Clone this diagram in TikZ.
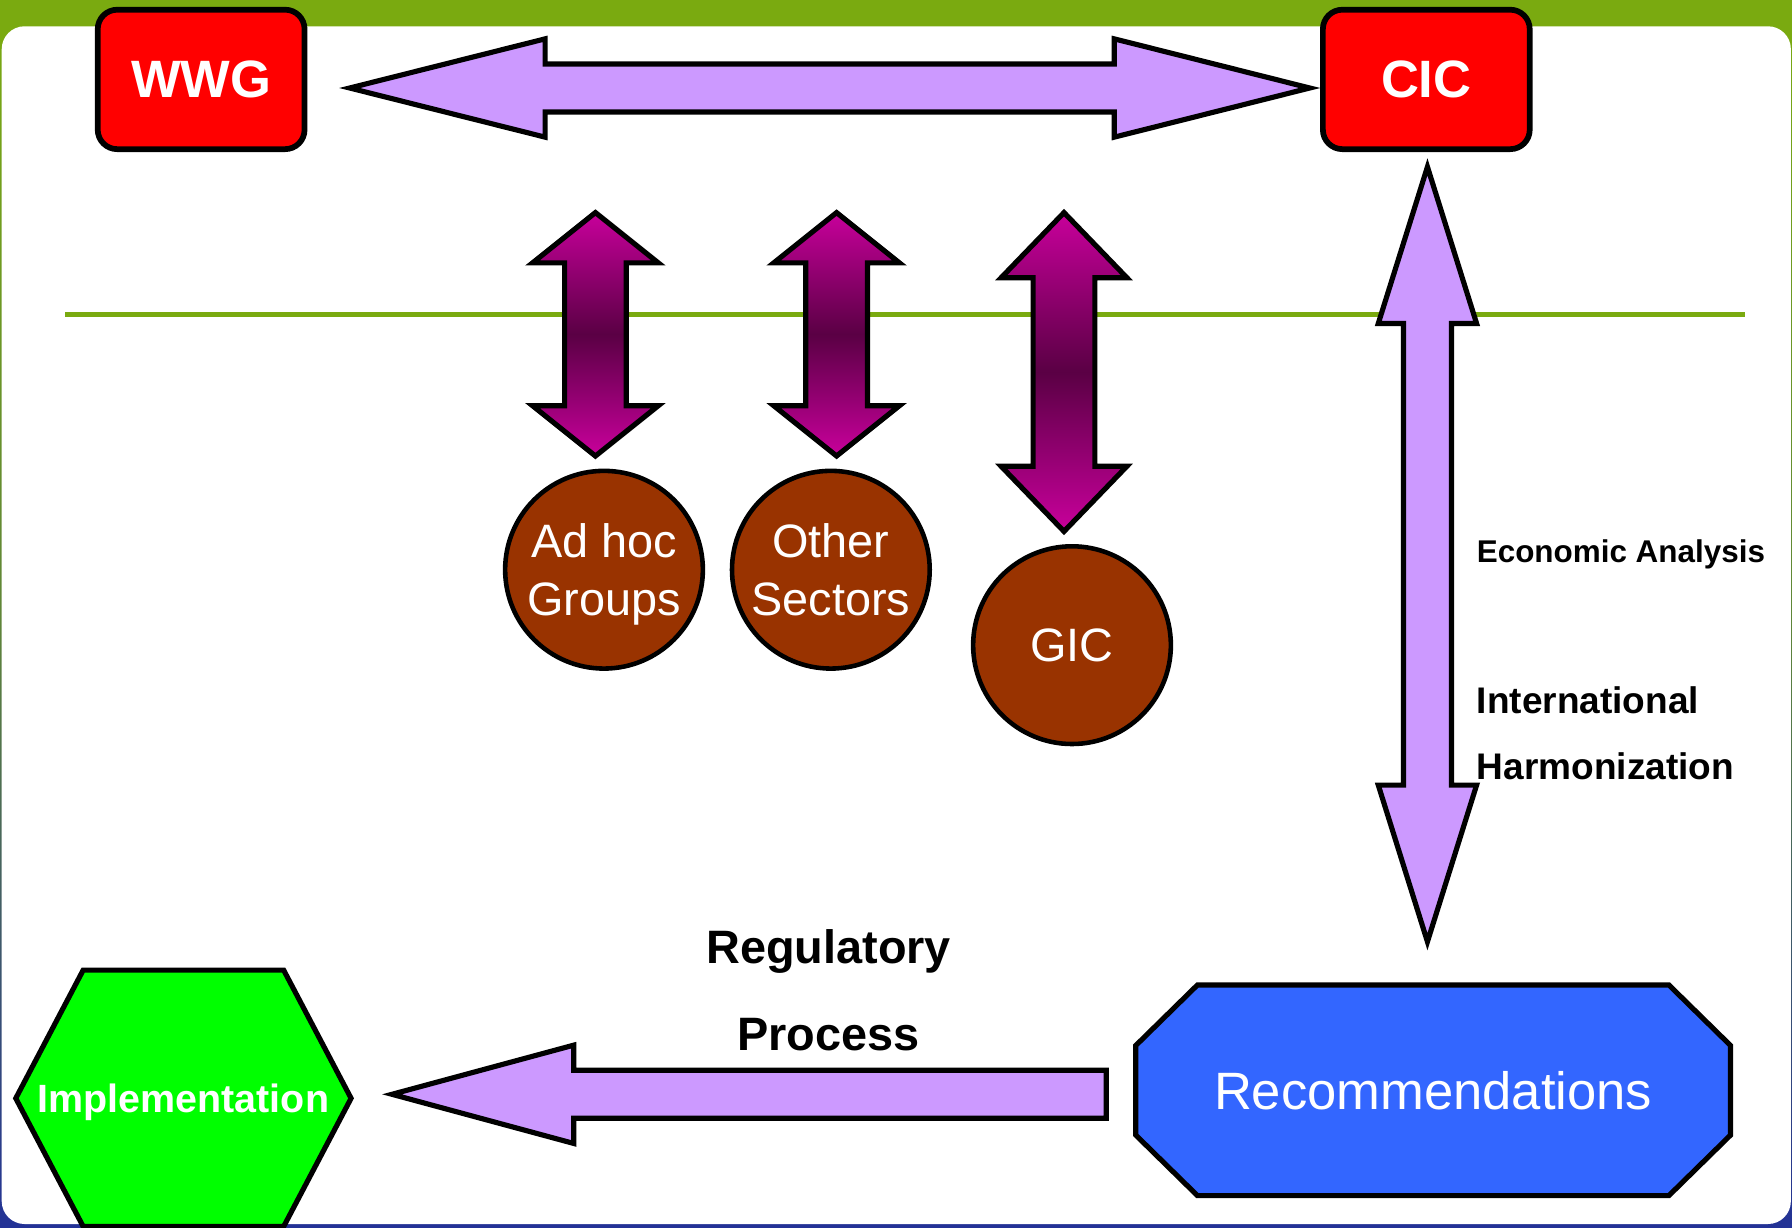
\documentclass[tikz,border=0pt]{standalone}
\usepackage{fontspec}
\setmainfont{Liberation Sans}
\usetikzlibrary{calc}
\pgfdeclarelayer{bg}
\pgfdeclarelayer{back}
\pgfsetlayers{bg,back,main}

\definecolor{slidegreen}{RGB}{122,170,16}
\definecolor{slideblue}{RGB}{35,50,150}
\definecolor{boxred}{RGB}{255,0,0}
\definecolor{lav}{RGB}{204,153,255}
\definecolor{magbright}{RGB}{200,0,155}
\definecolor{magdark}{RGB}{90,0,68}
\definecolor{discbrown}{RGB}{153,51,0}
\definecolor{recblue}{RGB}{51,102,255}
\definecolor{implgreen}{RGB}{0,255,0}

% horizontal double block arrow: style, left tip, right tip, head length, head half width, shaft half width
\newcommand\hdarrow[6]{\path[#1] let \p1=(#2), \p2=(#3) in
  (\p1) -- (\x1+#4,\y1+#5) -- (\x1+#4,\y1+#6) -- (\x2-#4,\y1+#6) -- (\x2-#4,\y1+#5) -- (\p2)
  -- (\x2-#4,\y1-#5) -- (\x2-#4,\y1-#6) -- (\x1+#4,\y1-#6) -- (\x1+#4,\y1-#5) -- cycle;}
% vertical double block arrow: style, top tip, bottom tip, head length, head half width, shaft half width
\newcommand\vdarrow[6]{\path[#1] let \p1=(#2), \p2=(#3) in
  (\p1) -- (\x1+#5,\y1-#4) -- (\x1+#6,\y1-#4) -- (\x1+#6,\y2+#4) -- (\x1+#5,\y2+#4) -- (\p2)
  -- (\x1-#5,\y2+#4) -- (\x1-#6,\y2+#4) -- (\x1-#6,\y1-#4) -- (\x1-#5,\y1-#4) -- cycle;}
% single block arrow pointing left: style, tip, tail centre, head length, head half width, shaft half width
\newcommand\lsarrow[6]{\path[#1] let \p1=(#2), \p2=(#3) in
  (\p1) -- (\x1+#4,\y1+#5) -- (\x1+#4,\y1+#6) -- (\x2,\y1+#6) -- (\x2,\y1-#6)
  -- (\x1+#4,\y1-#6) -- (\x1+#4,\y1-#5) -- cycle;}

\begin{document}
\begin{tikzpicture}[x=1pt,y=-1pt,
  redbox/.style={draw, line width=5pt, fill=boxred, rounded corners=17pt,
    minimum width=181pt, minimum height=122pt, inner sep=0pt, text=white,
    font=\bfseries\fontsize{46}{50}\selectfont},
  disc/.style={circle, draw, line width=4pt, fill=discbrown, minimum size=173pt,
    inner sep=0pt, text=white, align=center, text depth=0pt,
    font=\fontsize{41}{50.5}\selectfont},
  blockarrow/.style={draw, line width=4.5pt, fill=lav, line join=miter},
  gradarrow/.style={draw, line width=4.5pt, line join=miter, top color=magbright,
    bottom color=magbright, middle color=magdark},
  sidelabel/.style={anchor=base west, inner sep=0pt},
  reglabel/.style={anchor=base, inner sep=0pt, font=\bfseries\fontsize{41}{48}\selectfont},
  polyline/.style={draw, line width=4.5pt, line join=miter}
]
\useasboundingbox (0,0) rectangle (1568,1074);

% slide background and panel
\begin{pgfonlayer}{bg}
  \shade[top color=slidegreen, bottom color=slideblue, middle color=slidegreen!70!slideblue]
    (0,0) rectangle (1568,1074);
  \fill[slidegreen] (0,0) rectangle (1568,40);
  \fill[white, rounded corners=20pt] (1.5,23) rectangle (1567,1071);
  \draw[slidegreen, line width=4.5pt] (57,275) -- (1527,275);
\end{pgfonlayer}

% top boxes
\node[redbox] (wwg) at (176,69.5) {WWG};
\node[redbox] (cic) at (1248,69.5) {CIC};

% circles
\node[disc] (adhoc) at (528.5,498.5) {Ad hoc\\Groups};
\node[disc] (other) at (727,498.5) {Other\\Sectors};
\node[disc] (gic) at (938,564.5) {GIC};

% recommendations (octagon)
\node[minimum width=520pt, minimum height=184pt, inner sep=0pt, text=white,
  font=\fontsize{46}{50}\selectfont] (rec) at (1254,954) {Recommendations};
\begin{pgfonlayer}{back}
  \path[polyline, fill=recblue]
    ($(rec.north west)+(54,0)$) -- ($(rec.north east)+(-54,0)$) -- ($(rec.north east)+(0,53)$)
    -- ($(rec.south east)+(0,-53)$) -- ($(rec.south east)+(-54,0)$) -- ($(rec.south west)+(54,0)$)
    -- ($(rec.south west)+(0,-53)$) -- ($(rec.north west)+(0,53)$) -- cycle;
\end{pgfonlayer}

% implementation (hexagon)
\node[minimum width=293pt, minimum height=224pt, inner sep=0pt, text=white, text depth=0pt,
  font=\bfseries\fontsize{34.5}{40}\selectfont] (impl) at (160.5,961) {Implementation};
\begin{pgfonlayer}{back}
  \path[polyline, fill=implgreen]
    (impl.west) -- ($(impl.north west)+(59,0)$) -- ($(impl.north east)+(-59,0)$) -- (impl.east)
    -- ($(impl.south east)+(-59,0)$) -- ($(impl.south west)+(59,0)$) -- cycle;
\end{pgfonlayer}

% arrow end points
\coordinate (hL) at (306,77);
\coordinate (hR) at (1146,77);
\coordinate (vT) at (1249,146);
\coordinate (vB) at (1249,824);
\coordinate (p1T) at (521,186);
\coordinate (p1B) at (521,399);
\coordinate (p2T) at (732,186);
\coordinate (p2B) at (732,399);
\coordinate (p3T) at (931,186);
\coordinate (p3B) at (931,465);
\coordinate (bTip) at (343,957.5);
\coordinate (bTail) at (968,957.5);

% block arrows
\hdarrow{blockarrow}{hL}{hR}{171pt}{43pt}{21pt}
\vdarrow{blockarrow}{vT}{vB}{137pt}{43pt}{21pt}
\vdarrow{gradarrow}{p1T}{p1B}{44pt}{55pt}{27pt}
\vdarrow{gradarrow}{p2T}{p2B}{44pt}{55pt}{27pt}
\vdarrow{gradarrow}{p3T}{p3B}{57pt}{55pt}{27pt}
\lsarrow{blockarrow}{bTip}{bTail}{159pt}{43pt}{21pt}

% labels
\node[sidelabel, font=\bfseries\fontsize{27.5}{32}\selectfont] (econ) at (1292,492) {Economic Analysis};
\node[sidelabel, font=\bfseries\fontsize{32.4}{38}\selectfont] (intl) at (1292,624) {International};
\node[sidelabel, font=\bfseries\fontsize{32.4}{38}\selectfont] (harm) at (1292,682) {Harmonization};
\node[reglabel] (reg1) at (725,843) {Regulatory};
\node[reglabel] (reg2) at (725,919) {Process};
\end{tikzpicture}
\end{document}
